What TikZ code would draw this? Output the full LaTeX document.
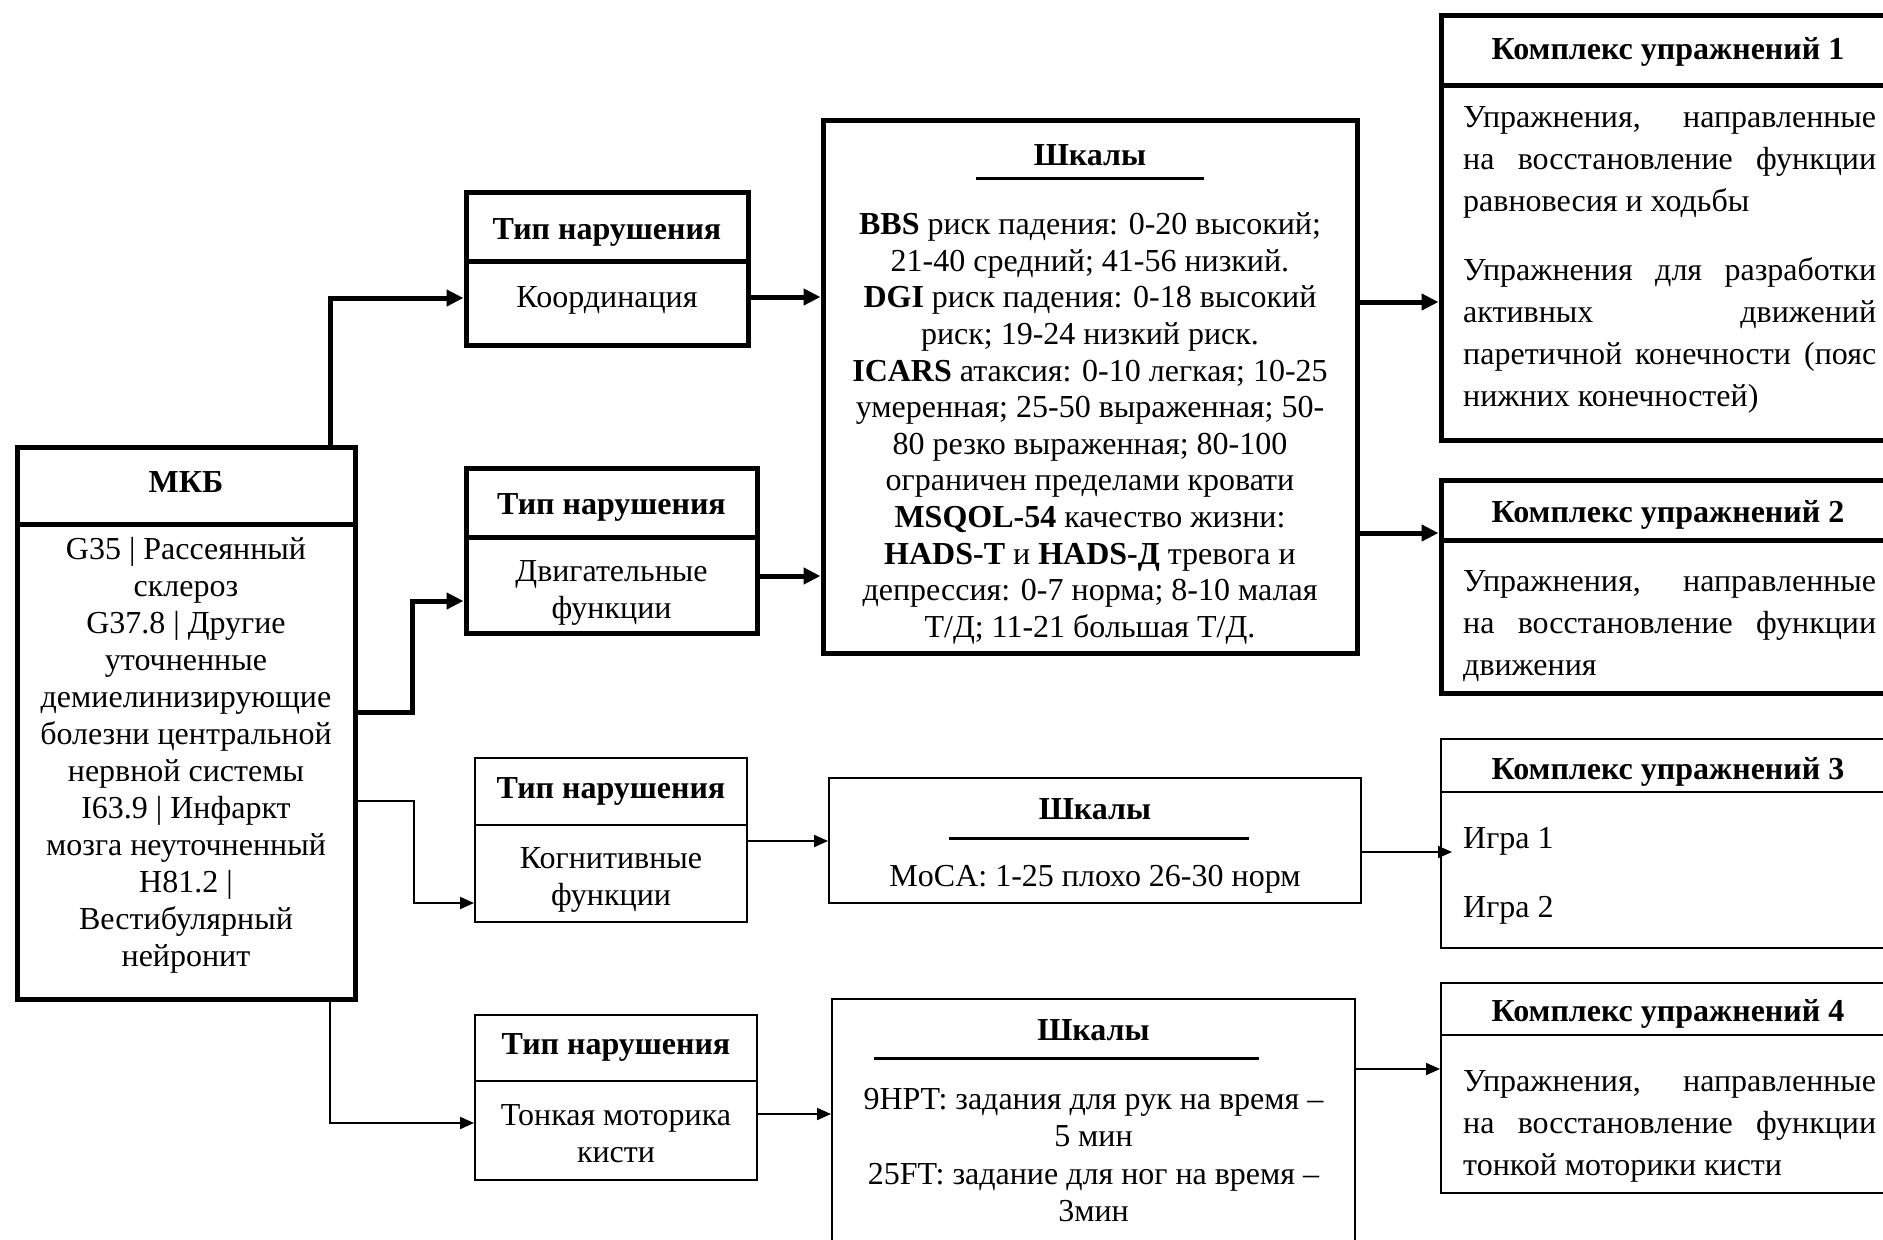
\documentclass[tikz,border=0pt]{standalone}
\usepackage{fontspec}
\setmainfont{Liberation Serif}
\usetikzlibrary{arrows.meta}
\begin{document}
\begin{tikzpicture}[x=1pt,y=-1pt,
  thickbox/.style={draw, line width=5pt, inner sep=0pt},
  thinbox/.style={draw, line width=2pt, inner sep=0pt},
  txt/.style={inner sep=0pt, align=center, font=\fontsize{32}{37}\selectfont},
  ktxt/.style={inner sep=0pt, align=left, font=\fontsize{32}{42}\selectfont},
  ttl/.style={inner sep=0pt, font=\fontsize{32}{37}\selectfont\bfseries},
  rulebar/.style={line width=3pt},
  thk/.style={line width=5pt, -{Triangle[length=17pt,width=16pt]}},
  thn/.style={line width=2pt, -{Triangle[length=14pt,width=12pt]}}]
\useasboundingbox (0,0) rectangle (1883,1240);
\clip (0,0) rectangle (1883,1240);
\fill[white] (0,0) rectangle (1883,1240);

% ---- ICD block
\node[thickbox, minimum width=338pt, minimum height=77pt] (mkbh) at (186,485.5) {};
\node[thickbox, minimum width=338pt, minimum height=475pt] (mkb) at (186,761.5) {};
\node[ttl] (mkbt) at (186,482) {МКБ};
\node[txt] (mkbx) at (186,755.5) {G35 | Рассеянный\\склероз\\G37.8 | Другие\\уточненные\\демиелинизирующие\\болезни центральной\\нервной системы\\I63.9 | Инфаркт\\мозга неуточненный\\H81.2 |\\Вестибулярный\\нейронит};

% ---- disorder types
\node[thickbox, minimum width=282pt, minimum height=69pt] (tip1h) at (607,226.5) {};
\node[thickbox, minimum width=282pt, minimum height=84pt] (tip1) at (607,303) {};
\node[ttl] (tip1t) at (607,232) {Тип нарушения};
\node[txt] (tip1x) at (607,300) {Координация};

\node[thickbox, minimum width=291pt, minimum height=69pt] (tip2h) at (611.5,502.5) {};
\node[thickbox, minimum width=291pt, minimum height=96pt] (tip2) at (611.5,585) {};
\node[ttl] (tip2t) at (611.5,507) {Тип нарушения};
\node[txt] (tip2x) at (611.5,593) {Двигательные\\функции};

\node[thinbox, minimum width=272pt, minimum height=67pt] (tip3h) at (611,791.5) {};
\node[thinbox, minimum width=272pt, minimum height=97pt] (tip3) at (611,873.5) {};
\node[ttl] (tip3t) at (611,791) {Тип нарушения};
\node[txt] (tip3x) at (611,880) {Когнитивные\\функции};

\node[thinbox, minimum width=282pt, minimum height=66pt] (tip4h) at (616,1048) {};
\node[thinbox, minimum width=282pt, minimum height=99pt] (tip4) at (616,1130.5) {};
\node[ttl] (tip4t) at (616,1047) {Тип нарушения};
\node[txt] (tip4x) at (616,1134) {Тонкая моторика\\кисти};

% ---- scales
\node[thickbox, minimum width=534pt, minimum height=533pt] (shk1) at (1090,386.5) {};
\node[ttl] (shk1t) at (1090,155) {Шкалы};
\draw[rulebar] (976,178) -- (1204,178);
\node[txt, font=\fontsize{32}{36.6}\selectfont] (shk1x) at (1090,428.5) {\textbf{BBS} риск падения: 0-20 высокий;\\21-40 средний; 41-56 низкий.\\\textbf{DGI} риск падения: 0-18 высокий\\риск; 19-24 низкий риск.\\\textbf{ICARS} атаксия: 0-10 легкая; 10-25\\умеренная; 25-50 выраженная; 50-\\80 резко выраженная; 80-100\\ограничен пределами кровати\\\textbf{MSQOL-54} качество жизни:\\\textbf{HADS-Т} и \textbf{HADS-Д} тревога и\\депрессия: 0-7 норма; 8-10 малая\\Т/Д; 11-21 большая Т/Д.};

\node[thinbox, minimum width=532pt, minimum height=125pt] (shk2) at (1095,840.5) {};
\node[ttl] (shk2t) at (1095,809) {Шкалы};
\draw[rulebar] (949,838) -- (1249,838);
\node[txt] (shk2x) at (1095,879) {MoCA: 1-25 плохо 26-30 норм};

\node[thinbox, minimum width=523pt, minimum height=251pt] (shk3) at (1093.5,1124.5) {};
\node[ttl] (shk3t) at (1093.5,1030) {Шкалы};
\draw[rulebar] (874,1058) -- (1259,1058);
\node[txt, font=\fontsize{32}{37.3}\selectfont] (shk3x) at (1093.5,1155) {9HPT: задания для рук на время –\\5 мин\\25FT: задание для ног на время –\\3мин};

% ---- exercise sets
\node[thickbox, minimum width=454pt, minimum height=70pt] (k1h) at (1668,50) {};
\node[thickbox, minimum width=454pt, minimum height=355pt] (k1) at (1668,262.5) {};
\node[ttl] (k1t) at (1668,52) {Комплекс упражнений 1};
\node[ktxt, anchor=west] (k1p1) at (1463,162) {\makebox[413pt][s]{Упражнения, направленные}\\\makebox[413pt][s]{на восстановление функции}\\равновесия и ходьбы};
\node[ktxt, anchor=west] (k1p2) at (1463,335) {\makebox[413pt][s]{Упражнения для разработки}\\\makebox[413pt][s]{активных движений}\\\makebox[413pt][s]{паретичной конечности (пояс}\\нижних конечностей)};

\node[thickbox, minimum width=454pt, minimum height=60pt] (k2h) at (1668,510) {};
\node[thickbox, minimum width=454pt, minimum height=153pt] (k2) at (1668,616.5) {};
\node[ttl] (k2t) at (1668,515) {Комплекс упражнений 2};
\node[ktxt, anchor=west] (k2x) at (1463,626) {\makebox[413pt][s]{Упражнения, направленные}\\\makebox[413pt][s]{на восстановление функции}\\движения};

\node[thinbox, minimum width=454pt, minimum height=53pt] (k3h) at (1668,765.5) {};
\node[thinbox, minimum width=454pt, minimum height=156pt] (k3) at (1668,870) {};
\node[ttl] (k3t) at (1668,772) {Комплекс упражнений 3};
\node[ktxt, anchor=west] (k3a) at (1463,841) {Игра 1};
\node[ktxt, anchor=west] (k3b) at (1463,910) {Игра 2};

\node[thinbox, minimum width=454pt, minimum height=52pt] (k4h) at (1668,1009) {};
\node[thinbox, minimum width=454pt, minimum height=158pt] (k4) at (1668,1114) {};
\node[ttl] (k4t) at (1668,1014) {Комплекс упражнений 4};
\node[ktxt, anchor=west] (k4x) at (1463,1126) {\makebox[413pt][s]{Упражнения, направленные}\\\makebox[413pt][s]{на восстановление функции}\\тонкой моторики кисти};

% ---- routing levels
\coordinate (xA1) at (330,0);
\coordinate (xA2) at (412,0);
\coordinate (xA3) at (414,0);
\coordinate (yA1) at (0,298);
\coordinate (yA2) at (0,712);
\coordinate (yA2b) at (0,601);
\coordinate (yA3) at (0,801);
\coordinate (yA3b) at (0,903);
\coordinate (yA4) at (0,1123);
\coordinate (yB1) at (0,297);
\coordinate (yB2) at (0,576);
\coordinate (yB3) at (0,841);
\coordinate (yB4) at (0,1114);
\coordinate (yC1) at (0,302);
\coordinate (yC2) at (0,533);
\coordinate (c3tip) at (1452,852);
\coordinate (yC4) at (0,1069);

% ---- connectors
\draw[thk] (mkbh.north -| xA1) |- (tip1.west |- yA1);
\draw[thk] (mkb.east |- yA2) -- (xA2 |- yA2) |- (tip2.west |- yA2b);
\draw[thn] (mkb.east |- yA3) -- (xA3 |- yA3) |- (tip3.west |- yA3b);
\draw[thn] (mkb.south -| xA1) |- (tip4.west |- yA4);

\draw[thk] (tip1.east |- yB1) -- (shk1.west |- yB1);
\draw[thk] (tip2.east |- yB2) -- (shk1.west |- yB2);
\draw[thn] (tip3.east |- yB3) -- (shk2.west |- yB3);
\draw[thn] (tip4.east |- yB4) -- (shk3.west |- yB4);

\draw[thk] (shk1.east |- yC1) -- (k1.west |- yC1);
\draw[thk] (shk1.east |- yC2) -- (k2h.west |- yC2);
\draw[thn] (shk2.east |- c3tip) -- (c3tip);
\draw[thn] (shk3.east |- yC4) -- (k4.west |- yC4);
\end{tikzpicture}
\end{document}
